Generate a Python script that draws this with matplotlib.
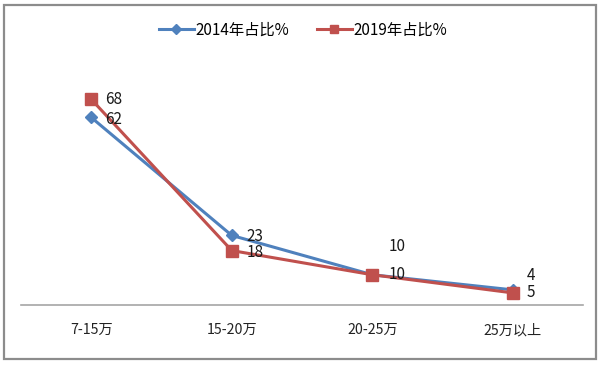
import matplotlib
matplotlib.use('Agg')
import matplotlib.pyplot as plt
from matplotlib.patches import Rectangle

plt.rcParams['font.family'] = ['Noto Sans CJK SC', 'DejaVu Sans']

categories = ['7-15万', '15-20万', '20-25万', '25万以上']
share_2014 = [62, 23, 10, 5]
share_2019 = [68, 18, 10, 4]
labels_2014 = ['62', '23', '10', '4']
labels_2019 = ['68', '18', '10', '5']
names = ['2014年占比%', '2019年占比%']

blue = '#4F81BD'
red = '#C0504D'

fig = plt.figure(figsize=(6, 3.66), dpi=100)
fig.patches.append(Rectangle((4 / 600, 1 - 359 / 366), 592 / 600, 354 / 366,
                             transform=fig.transFigure, fill=False,
                             edgecolor='#8c8c8c', lw=1.6))

ax = fig.add_axes([21 / 600, 61 / 366, 562 / 600, 242 / 366])
x = range(len(categories))
l1, = ax.plot(x, share_2014, color=blue, lw=2.2, marker='D', ms=6.5,
              label=names[0])
l2, = ax.plot(x, share_2019, color=red, lw=2.2, marker='s', ms=8,
              label=names[1])

# data labels, offsets in pixels
off_2014 = [(14, -2), (15, -1), (16, 28), (14, 14)]
off_2019 = [(14, 0), (15, -2), (16, 0), (14, 0)]
for i in x:
    ax.annotate(labels_2014[i], (i, share_2014[i]), xytext=off_2014[i],
                textcoords='offset pixels', va='center', ha='left',
                fontsize=11, color='#1a1a1a')
    ax.annotate(labels_2019[i], (i, share_2019[i]), xytext=off_2019[i],
                textcoords='offset pixels', va='center', ha='left',
                fontsize=11, color='#1a1a1a')

ax.set_xlim(-0.5, 3.5)
ax.set_ylim(0, 80)
ax.set_xticks(list(x))
ax.set_xticklabels(categories, fontsize=10.2, color='#222222')
ax.tick_params(axis='x', length=0, pad=13)
ax.set_yticks([])
for s in ['left', 'right', 'top']:
    ax.spines[s].set_visible(False)
ax.spines['bottom'].set_color('#a6a6a6')
ax.spines['bottom'].set_linewidth(1.2)

leg = fig.legend(handles=[l1, l2], loc='center', bbox_to_anchor=(0.505, 0.918),
                 ncol=2, frameon=False, fontsize=11, handlelength=2.3,
                 columnspacing=1.8, handletextpad=0.1, markerscale=0.8)

plt.savefig('out.png', dpi=100)
